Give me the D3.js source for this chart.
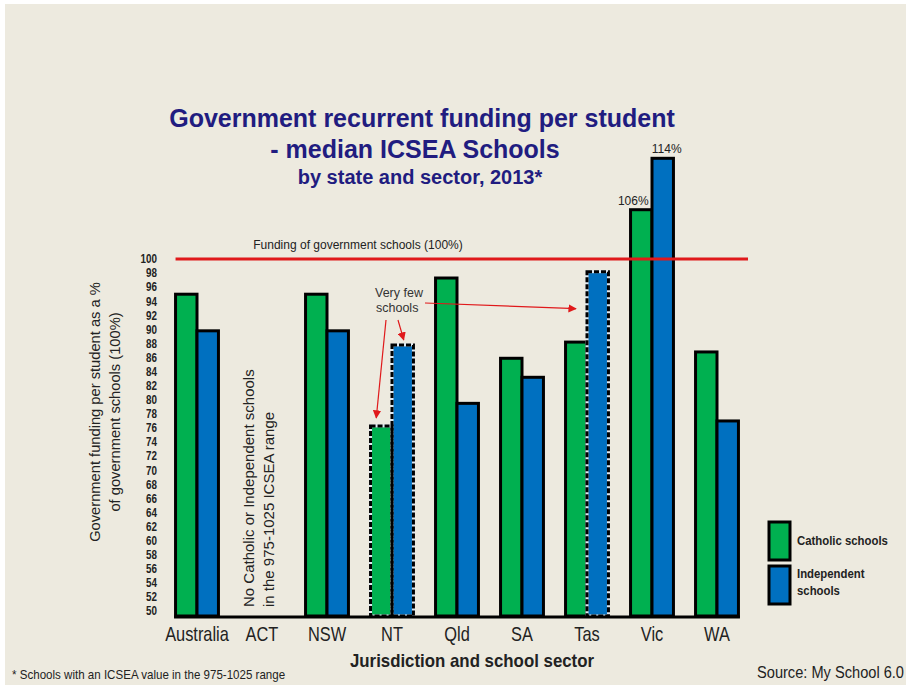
<!DOCTYPE html>
<html>
<head>
<meta charset='utf-8'/>
<title>Government recurrent funding per student</title>
<script src='https://d3js.org/d3.v7.min.js'></script>
<style>
body { margin: 0; background: #ffffff; }
text { font-family: 'Liberation Sans', Arial, sans-serif; fill: #222222; }
</style>
</head>
<body>
<script>
'use strict'

// chart values
const categories = ['Australia', 'ACT', 'NSW', 'NT', 'Qld', 'SA', 'Tas', 'Vic', 'WA']
const catholic = [95, null, 95, 76.3, 97.3, 85.9, 88.2, 107, 86.8]
const independent = [89.8, null, 89.8, 87.8, 79.5, 83.2, 98.2, 114.3, 77]
const sectors = ['Catholic schools', 'Independent schools']
const fewCatholic = ['NT']               // dashed outline, very few schools
const fewIndependent = ['NT', 'Tas']
const yTicks = [50, 52, 54, 56, 58, 60, 62, 64, 66, 68, 70, 72, 74, 76, 78, 80,
	82, 84, 86, 88, 90, 92, 94, 96, 98, 100]
const barLabels = [{cat: 'Vic', sector: 0, text: '106%', dx: -8}, {cat: 'Vic', sector: 1, text: '114%', dx: 4}]

const colours = ['#00b050', '#0070c0']
const width = 909
const height = 685

// no narrow font installed: squeeze Liberation Sans horizontally
function narrow(sel, x, y, s)
{
	return sel.attr('transform', `translate(${x},${y}) scale(${s},1)`)
}

const svg = d3.select('body').append('svg')
	.attr('width', width)
	.attr('height', height)

svg.append('rect')
	.attr('x', 5).attr('y', 4)
	.attr('width', width - 8).attr('height', height - 4)
	.attr('fill', '#edeadf')

const x = d3.scaleBand()
	.domain(categories)
	.range([164.5, 749.5])
	.paddingInner(0.34)
	.paddingOuter(0.17)

const xSub = d3.scaleBand()
	.domain([0, 1])
	.range([0, x.bandwidth()])

const y = d3.scaleLinear()
	.domain([49.3, 100])
	.range([616, 259])

// title
const title = svg.append('g').attr('font-weight', 'bold').attr('text-anchor', 'middle')
title.append('text').attr('x', 422).attr('y', 127).attr('font-size', 25)
	.style('fill', '#211c80').text('Government recurrent funding per student')
title.append('text').attr('x', 415).attr('y', 158).attr('font-size', 25)
	.style('fill', '#211c80').text('- median ICSEA Schools')
title.append('text').attr('x', 420).attr('y', 184).attr('font-size', 20)
	.style('fill', '#211c80').text('by state and sector, 2013*')

// y tick labels (no axis line)
svg.append('g')
	.attr('font-weight', 'bold')
	.attr('font-size', 12)
	.attr('text-anchor', 'end')
	.selectAll('text')
	.data(yTicks)
	.join('text')
	.each(function(d) { narrow(d3.select(this), 157, y(d), 0.82) })
	.attr('dy', '0.36em')
	.text(d => d)

// y axis title
const yTitle = svg.append('text')
	.attr('transform', 'translate(95,412) rotate(-90)')
	.attr('text-anchor', 'middle')
	.attr('font-size', 14.7)
yTitle.append('tspan').attr('x', 0).attr('y', 5).text('Government funding per student as a %')
yTitle.append('tspan').attr('x', 0).attr('y', 25).text('of government schools (100%)')

// bars
const rows = []
categories.forEach((c, i) => {
	if (catholic[i] != null) rows.push({cat: c, sector: 0, value: catholic[i], dashed: fewCatholic.includes(c)})
	if (independent[i] != null) rows.push({cat: c, sector: 1, value: independent[i], dashed: fewIndependent.includes(c)})
})

const bars = svg.append('g')
bars.selectAll('rect.bar')
	.data(rows)
	.join('rect')
	.attr('class', 'bar')
	.attr('x', d => x(d.cat) + xSub(d.sector))
	.attr('y', d => y(d.value))
	.attr('width', xSub.bandwidth())
	.attr('height', d => y.range()[0] - y(d.value))
	.attr('fill', d => colours[d.sector])
	.attr('stroke', d => d.dashed ? '#dfe9f2' : '#000000')
	.attr('stroke-width', 3)

bars.selectAll('rect.dash')
	.data(rows.filter(d => d.dashed))
	.join('rect')
	.attr('class', 'dash')
	.attr('x', d => x(d.cat) + xSub(d.sector))
	.attr('y', d => y(d.value))
	.attr('width', xSub.bandwidth())
	.attr('height', d => y.range()[0] - y(d.value))
	.attr('fill', 'none')
	.attr('stroke', '#000000')
	.attr('stroke-width', 3)
	.attr('stroke-dasharray', '5,2')

// baseline
svg.append('line')
	.attr('x1', x('Australia') - 1.5)
	.attr('x2', x('WA') + x.bandwidth() + 1.5)
	.attr('y1', y.range()[0] + 1)
	.attr('y2', y.range()[0] + 1)
	.attr('stroke', '#000000')
	.attr('stroke-width', 3)

// 100% reference line
svg.append('line')
	.attr('x1', x('Australia'))
	.attr('x2', 748)
	.attr('y1', y(100))
	.attr('y2', y(100))
	.attr('stroke', '#e0191b')
	.attr('stroke-width', 3)

svg.append('text')
	.attr('x', 358)
	.attr('y', y(100) - 10)
	.attr('text-anchor', 'middle')
	.attr('font-size', 12)
	.text('Funding of government schools (100%)')

// value labels on Vic
svg.append('g')
	.attr('font-size', 12)
	.attr('text-anchor', 'middle')
	.selectAll('text')
	.data(barLabels)
	.join('text')
	.attr('x', d => x(d.cat) + xSub(d.sector) + xSub.bandwidth() / 2 + d.dx)
	.attr('y', d => y((d.sector == 0 ? catholic : independent)[categories.indexOf(d.cat)]) - 5)
	.text(d => d.text)

// ACT note
const note = svg.append('text')
	.attr('transform', `translate(${x('ACT') + x.bandwidth() / 2 - 2},607) rotate(-90)`)
	.attr('font-size', 15)
note.append('tspan').attr('x', 0).attr('y', -6).text('No Catholic or Independent schools')
note.append('tspan').attr('x', 0).attr('y', 14).text('in the 975-1025 ICSEA range')

// very few schools annotation
svg.append('defs').append('marker')
	.attr('id', 'arrow')
	.attr('viewBox', '0 0 10 10')
	.attr('refX', 9).attr('refY', 5)
	.attr('markerWidth', 7).attr('markerHeight', 7)
	.attr('orient', 'auto')
	.append('path')
	.attr('d', 'M0,0L10,5L0,10z')
	.attr('fill', '#e0191b')

const few = svg.append('text').attr('font-size', 12.5).style('fill', '#333333')
few.append('tspan').attr('x', 375).attr('y', 297).text('Very few')
few.append('tspan').attr('x', 376).attr('y', 312).text('schools')

const ntC = x('NT') + xSub(0) + xSub.bandwidth() / 2
const ntI = x('NT') + xSub(1) + xSub.bandwidth() / 2
const tasI = x('Tas') + xSub(1)
const arrows = [
	[386, 320, ntC - 5, y(76.3) - 8],
	[398, 320, ntI + 1, y(87.8) - 5],
	[425, 303, tasI - 11, y(98.2) + 37]
]
svg.append('g').selectAll('line')
	.data(arrows)
	.join('line')
	.attr('x1', d => d[0]).attr('y1', d => d[1])
	.attr('x2', d => d[2]).attr('y2', d => d[3])
	.attr('stroke', '#e0191b')
	.attr('stroke-width', 1.2)
	.attr('marker-end', 'url(#arrow)')

// category labels
svg.append('g')
	.attr('font-size', 20)
	.attr('text-anchor', 'middle')
	.selectAll('text')
	.data(categories)
	.join('text')
	.each(function(d) { narrow(d3.select(this), x(d) + x.bandwidth() / 2, 641, 0.82) })
	.text(d => d)

narrow(svg.append('text'), 472, 667, 0.887)
	.attr('text-anchor', 'middle')
	.attr('font-size', 19)
	.attr('font-weight', 'bold')
	.text('Jurisdiction and school sector')

narrow(svg.append('text'), 12, 679, 0.89)
	.attr('font-size', 13)
	.text('* Schools with an ICSEA value in the 975-1025 range')

narrow(svg.append('text'), 904, 678, 0.86)
	.attr('text-anchor', 'end')
	.attr('font-size', 17)
	.text('Source: My School 6.0')

// legend
const legend = svg.append('g')
legend.selectAll('rect')
	.data(sectors)
	.join('rect')
	.attr('x', 769)
	.attr('y', (d, i) => 522 + i * 44)
	.attr('width', 21)
	.attr('height', 38)
	.attr('fill', (d, i) => colours[i])
	.attr('stroke', '#000000')
	.attr('stroke-width', 3)

const legText = legend.append('g').attr('font-weight', 'bold').attr('font-size', 12.5)
narrow(legText.append('text'), 797, 545, 0.91).text('Catholic schools')
narrow(legText.append('text'), 797, 578, 0.91).text('Independent')
narrow(legText.append('text'), 797, 595, 0.91).text('schools')
</script>
</body>
</html>
